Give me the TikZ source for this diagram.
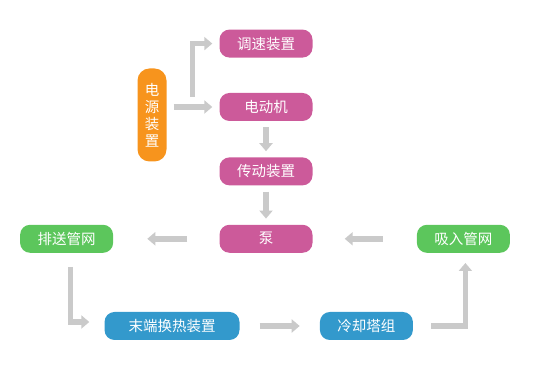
\documentclass[tikz,border=0pt]{standalone}
\usepackage{fontspec}
\newfontfamily\cjk{Noto Sans CJK SC}
\usetikzlibrary{arrows.meta, positioning}
\definecolor{boxpink}{HTML}{CC5A9A}
\definecolor{boxorange}{HTML}{F7941D}
\definecolor{boxgreen}{HTML}{5CC65C}
\definecolor{boxblue}{HTML}{3399CC}
\definecolor{arrowgray}{HTML}{CACACA}

\begin{document}
\begin{tikzpicture}[
x=1pt, y=1pt,
node distance=36pt and 40pt,
box/.style={rounded corners=10pt, text=white, align=center, inner sep=2pt, minimum width=93pt, minimum height=28pt, font=\cjk\fontsize{14.5}{17}\selectfont},
pinkbox/.style={box, fill=boxpink},
greenbox/.style={box, fill=boxgreen},
bluebox/.style={box, fill=boxblue},
arrow/.style={-{Triangle[length=8pt, width=13pt]}, line width=5.5pt, draw=arrowgray}
]
\useasboundingbox (0,0) rectangle (550,390);

% middle column
\node[pinkbox] (mot) at (266,283) {电动机};
\node[pinkbox, above=35pt of mot] (spd) {调速装置};
\node[pinkbox, below=36pt of mot] (drv) {传动装置};
\node[pinkbox, below=39pt of drv] (pump) {泵};

% power supply
\node[box, fill=boxorange, rounded corners=12pt, minimum width=29pt, minimum height=93pt, inner sep=0pt] (pwr) at (152,275) {电\\源\\装\\置};

% pipe networks
\node[greenbox, left=106pt of pump] (outnet) {排送管网};
\node[greenbox, right=104pt of pump] (innet) {吸入管网};

% bottom row
\node[bluebox, minimum width=135pt] (term) at (172,64) {末端换热装置};
\node[bluebox, right=80pt of term] (cool) {冷却塔组};

\coordinate (split) at ([xshift=26pt, yshift=10pt]pwr.east |- mot);

\draw[arrow, shorten <=7pt, shorten >=7pt] (pwr.east |- mot) -- (mot.west);
\draw[arrow, shorten >=7pt] (split) |- (spd.west);
\draw[arrow, shorten <=6pt, shorten >=6pt] (mot) -- (drv);
\draw[arrow, shorten <=6pt, shorten >=6pt] (drv) -- (pump);
\draw[arrow, shorten <=32pt, shorten >=34pt] (pump) -- (outnet);
\draw[arrow, shorten <=34pt, shorten >=32pt] (innet) -- (pump);
\draw[arrow, shorten <=14pt, shorten >=15pt] ([xshift=4pt]outnet.south) |- ([yshift=4pt]term.west);
\draw[arrow, shorten <=20pt, shorten >=20pt] (term) -- (cool);
\draw[arrow, shorten <=18pt, shorten >=10pt] (cool.east) -| ([xshift=2pt]innet.south);

\end{tikzpicture}
\end{document}
